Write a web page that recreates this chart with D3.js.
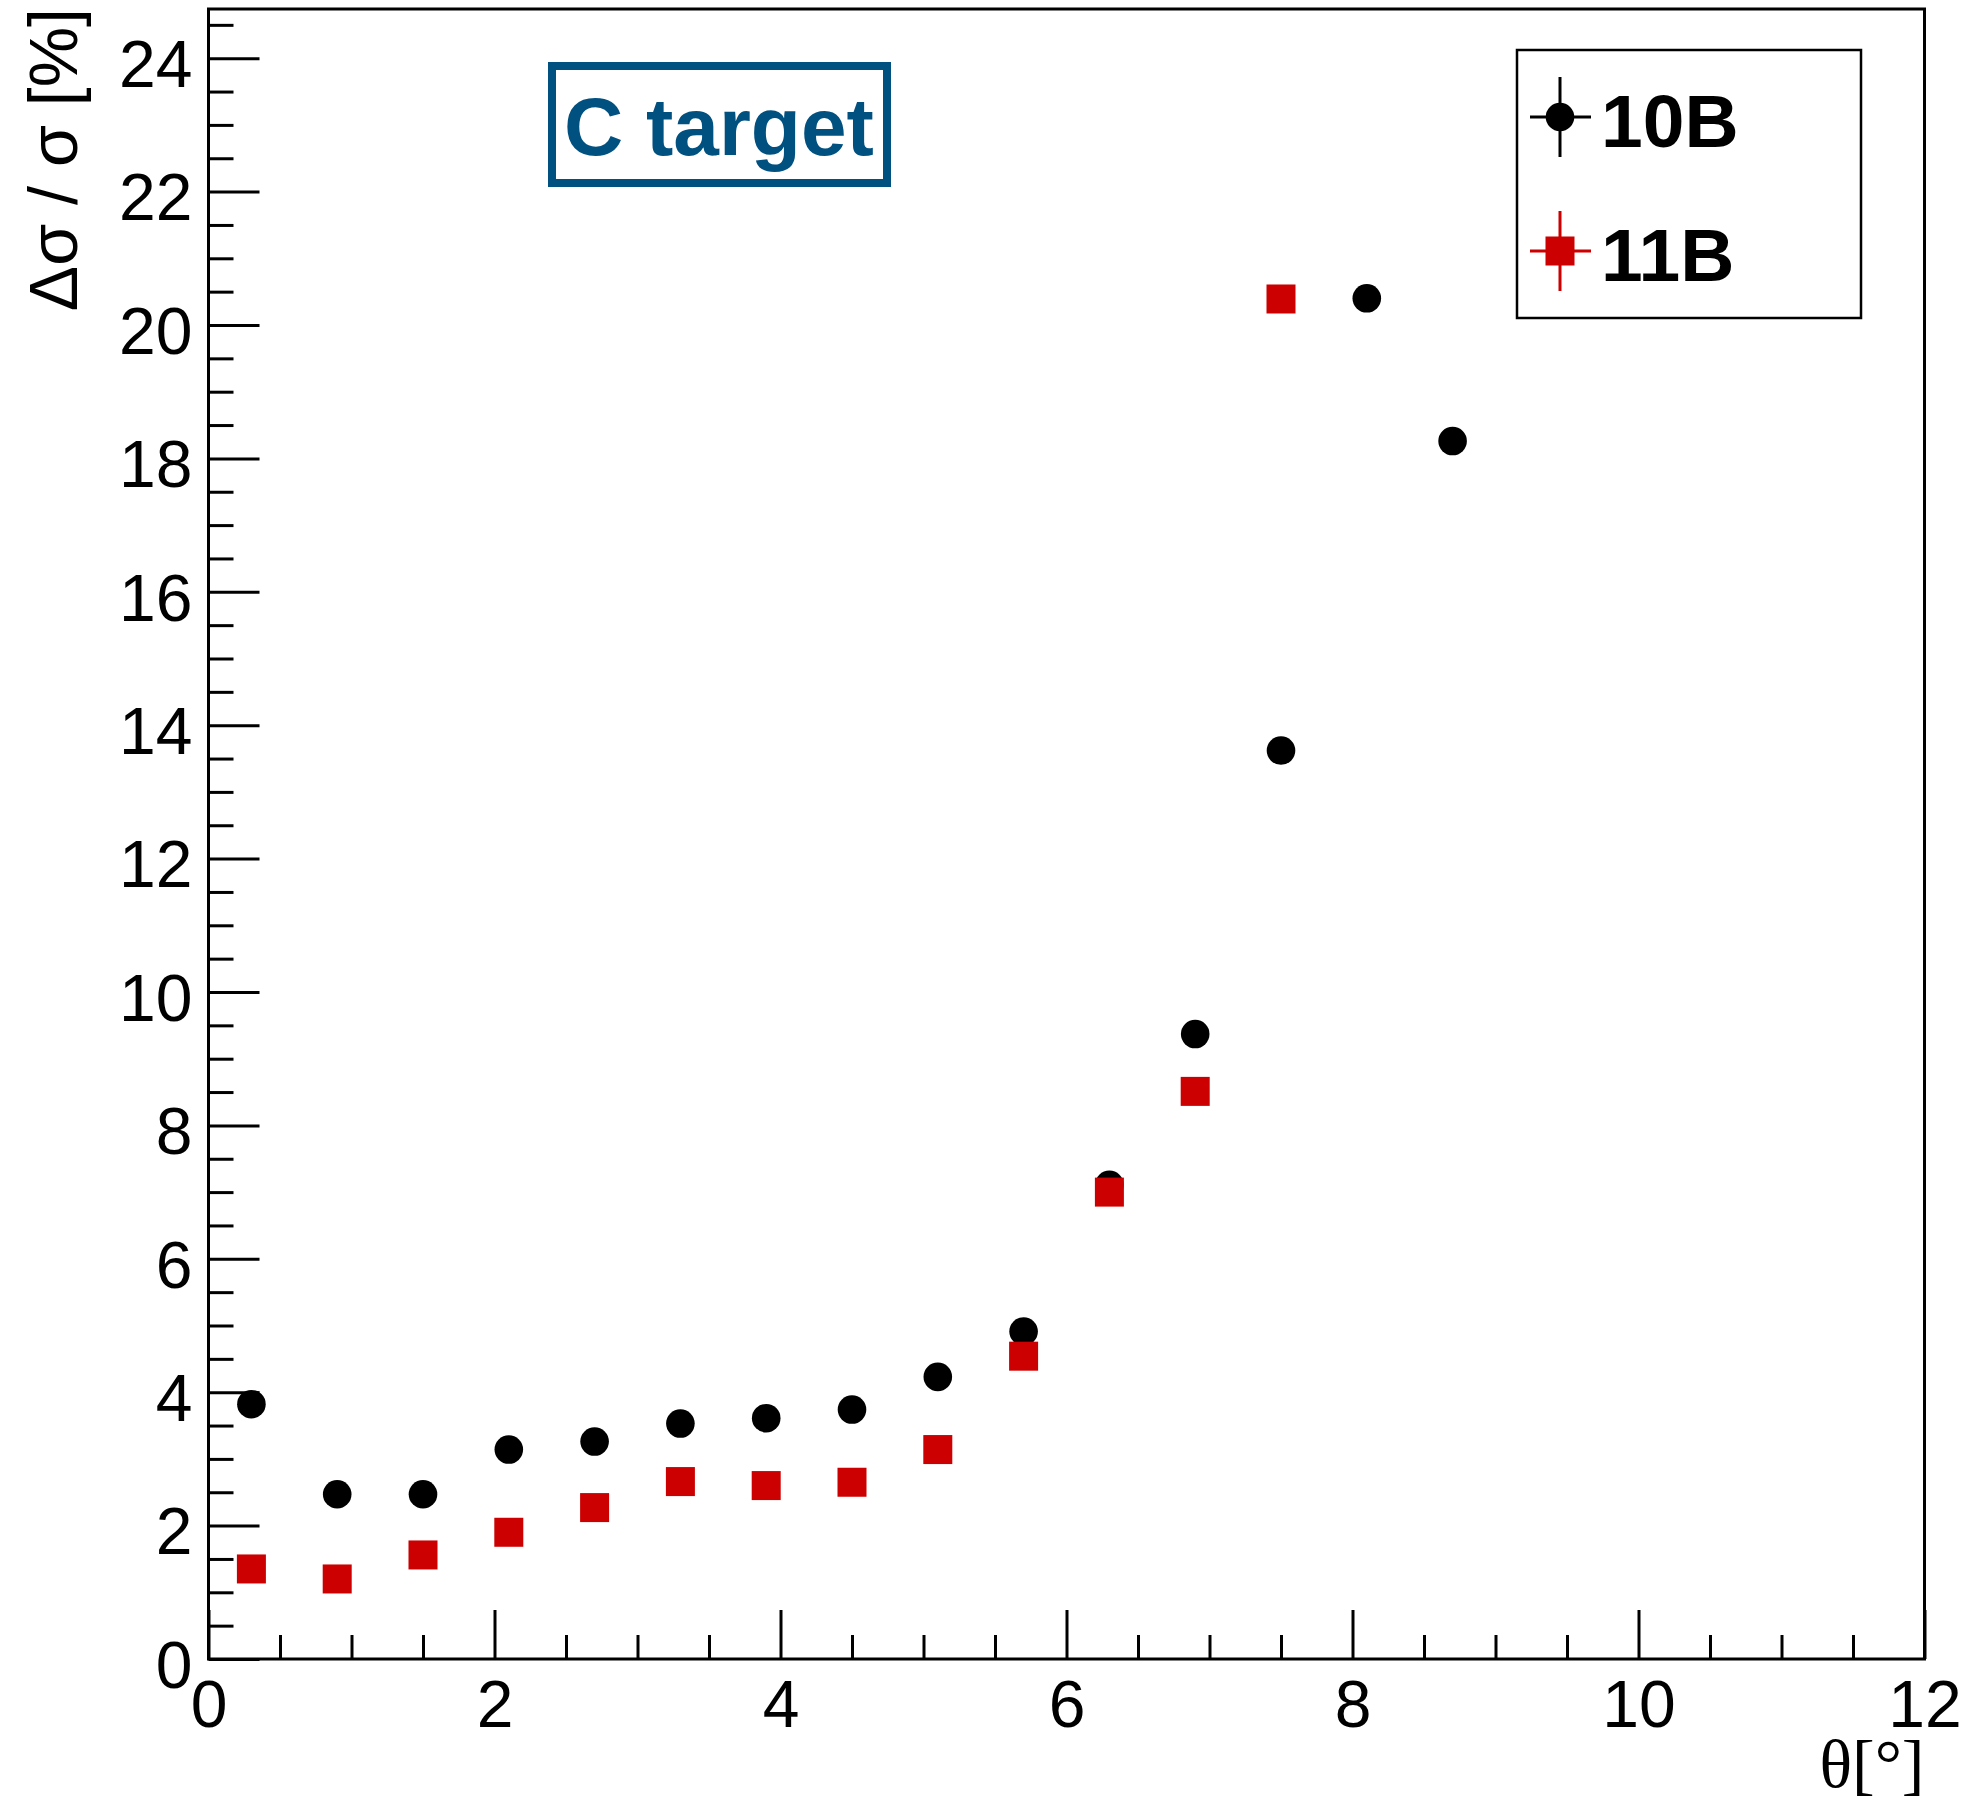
<!DOCTYPE html>
<html>
<head>
<meta charset="utf-8">
<script src="https://cdn.jsdelivr.net/npm/d3@7"></script>
<style>
  html, body { margin: 0; padding: 0; background: #fff; }
  svg { display: block; }
</style>
</head>
<body>
<svg id="chart" width="1968" height="1807"></svg>
<script>
// ---- data ----
const theta10B = [0.3, 0.9, 1.5, 2.1, 2.7, 3.3, 3.9, 4.5, 5.1, 5.7, 6.3, 6.9, 7.5, 8.1, 8.7];
const rel10B   = [3.82, 2.47, 2.47, 3.14, 3.26, 3.53, 3.61, 3.74, 4.23, 4.91, 7.11, 9.37, 13.62, 20.40, 18.26];
const theta11B = [0.3, 0.9, 1.5, 2.1, 2.7, 3.3, 3.9, 4.5, 5.1, 5.7, 6.3, 6.9, 7.5];
const rel11B   = [1.35, 1.20, 1.56, 1.90, 2.27, 2.66, 2.60, 2.65, 3.14, 4.54, 7.00, 8.51, 20.39];
const seriesNames = ["10B", "11B"];
const xTickValues = [0, 2, 4, 6, 8, 10, 12];
const yTickValues = [0, 2, 4, 6, 8, 10, 12, 14, 16, 18, 20, 22, 24];
const xTitle = "θ[°]";
const yTitle = "Δσ / σ [%]";
const boxLabel = "C target";

// ---- layout ----
const X0 = 208.5, X1 = 1924.5, Y0 = 1659, Y1 = 9;
const SANS = "'Liberation Sans', Arial, Helvetica, sans-serif";
const SERIF = "'Liberation Serif', 'Times New Roman', serif";
const RED = "#cc0000";
const BLUE = "#005080";

const svg = d3.select("#chart");
const x = d3.scaleLinear().domain([0, 12]).range([X0, X1]);
const y = d3.scaleLinear().domain([0, (Y0 - Y1) / 66.7]).range([Y0, Y1]);

const xMinor = d3.range(0, 12.001, 0.5).filter(v => Math.abs(v % 2) > 1e-6);
const yMinor = d3.range(0, 24.6, 0.5).filter(v => Math.abs(v % 2) > 1e-6);

// minor ticks
svg.append("g").attr("transform", `translate(0,${Y0})`)
  .call(d3.axisBottom(x).tickValues(xMinor).tickSizeInner(-24).tickSizeOuter(0).tickFormat(""))
  .call(g => g.select(".domain").remove())
  .call(g => g.selectAll("line").attr("stroke", "#000").attr("stroke-width", 3));
svg.append("g").attr("transform", `translate(${X0},0)`)
  .call(d3.axisLeft(y).tickValues(yMinor).tickSizeInner(-25).tickSizeOuter(0).tickFormat(""))
  .call(g => g.select(".domain").remove())
  .call(g => g.selectAll("line").attr("stroke", "#000").attr("stroke-width", 3));

// major ticks + labels
svg.append("g").attr("transform", `translate(0,${Y0})`)
  .call(d3.axisBottom(x).tickValues(xTickValues).tickSizeInner(-49).tickSizeOuter(0).tickPadding(21).tickFormat(d3.format("d")))
  .call(g => g.select(".domain").remove())
  .call(g => g.selectAll("line").attr("stroke", "#000").attr("stroke-width", 3))
  .call(g => g.selectAll("text").attr("font-family", SANS).attr("font-size", 66).attr("fill", "#000"));
svg.append("g").attr("transform", `translate(${X0},0)`)
  .call(d3.axisLeft(y).tickValues(yTickValues).tickSizeInner(-51).tickSizeOuter(0).tickPadding(16).tickFormat(d3.format("d")))
  .call(g => g.select(".domain").remove())
  .call(g => g.selectAll("line").attr("stroke", "#000").attr("stroke-width", 3))
  .call(g => g.selectAll("text").attr("font-family", SANS).attr("font-size", 66).attr("fill", "#000").attr("dy", "0.43em"));

// frame
svg.append("rect")
  .attr("x", X0).attr("y", Y1).attr("width", X1 - X0).attr("height", Y0 - Y1)
  .attr("fill", "none").attr("stroke", "#000").attr("stroke-width", 3);

// axis titles
svg.append("text")
  .attr("x", X1).attr("y", 1787)
  .attr("text-anchor", "end")
  .attr("font-family", SERIF).attr("font-size", 68)
  .text(xTitle);
svg.append("text")
  .attr("transform", `translate(77,8) rotate(-90)`)
  .attr("text-anchor", "end")
  .attr("font-family", SANS).attr("font-size", 68)
  .text(yTitle);

// data points
const d10 = theta10B.map((t, i) => ({ t, v: rel10B[i] }));
const d11 = theta11B.map((t, i) => ({ t, v: rel11B[i] }));
const SQ = 29;
svg.append("g").selectAll("circle").data(d10).join("circle")
  .attr("cx", d => x(d.t)).attr("cy", d => y(d.v)).attr("r", 14.3).attr("fill", "#000");
svg.append("g").selectAll("rect").data(d11).join("rect")
  .attr("x", d => x(d.t) - SQ / 2).attr("y", d => y(d.v) - SQ / 2)
  .attr("width", SQ).attr("height", SQ).attr("fill", RED);

// "C target" box
svg.append("rect")
  .attr("x", 552).attr("y", 66).attr("width", 335).attr("height", 117)
  .attr("fill", "#fff").attr("stroke", BLUE).attr("stroke-width", 8);
svg.append("text")
  .attr("x", 564).attr("y", 155)
  .attr("font-family", SANS).attr("font-size", 82).attr("font-weight", "bold")
  .attr("fill", BLUE)
  .text(boxLabel);

// legend
const lg = svg.append("g");
lg.append("rect").attr("x", 1517).attr("y", 50).attr("width", 344).attr("height", 268)
  .attr("fill", "#fff").attr("stroke", "#000").attr("stroke-width", 2.5);
const legendRows = [
  { name: seriesNames[0], cy: 117, color: "#000", shape: "circle" },
  { name: seriesNames[1], cy: 251, color: RED, shape: "square" }
];
legendRows.forEach(r => {
  lg.append("line").attr("x1", 1530).attr("x2", 1591).attr("y1", r.cy).attr("y2", r.cy)
    .attr("stroke", r.color).attr("stroke-width", 3);
  lg.append("line").attr("x1", 1560).attr("x2", 1560).attr("y1", r.cy - 40).attr("y2", r.cy + 40)
    .attr("stroke", r.color).attr("stroke-width", 3);
  if (r.shape === "circle") {
    lg.append("circle").attr("cx", 1560).attr("cy", r.cy).attr("r", 14.3).attr("fill", r.color);
  } else {
    lg.append("rect").attr("x", 1560 - SQ / 2).attr("y", r.cy - SQ / 2).attr("width", SQ).attr("height", SQ).attr("fill", r.color);
  }
  lg.append("text").attr("x", 1601).attr("y", r.cy + 30)
    .attr("font-family", SANS).attr("font-size", 75).attr("font-weight", "bold").attr("fill", "#000")
    .text(r.name);
});
</script>
</body>
</html>
